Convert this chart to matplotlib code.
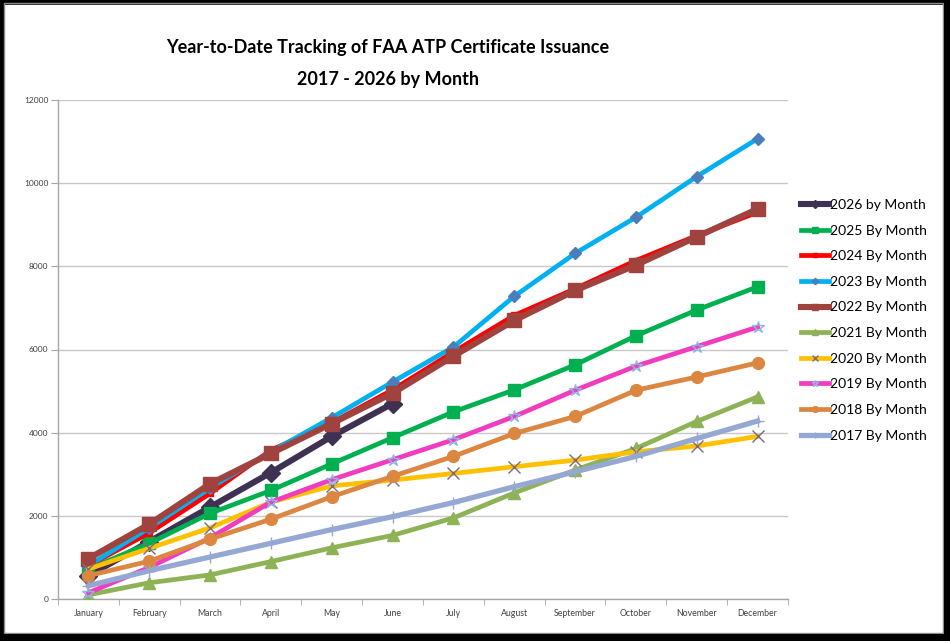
import matplotlib
matplotlib.use("Agg")
import matplotlib.pyplot as plt
from matplotlib.patches import Rectangle

plt.rcParams['font.family'] = ['Lato', 'DejaVu Sans']

months = ["January", "February", "March", "April", "May", "June", "July",
          "August", "September", "October", "November", "December"]

y2026 = [560, 1380, 2210, 3040, 3910, 4700]
y2025 = [720, 1340, 2060, 2610, 3250, 3880, 4500, 5030, 5630, 6330, 6950, 7510]
y2024 = [800, 1590, 2540, 3580, 4240, 5030, 5940, 6820, 7460, 8140, 8740, 9300]
y2023 = [800, 1710, 2670, 3540, 4360, 5220, 6060, 7280, 8310, 9180, 10160, 11070]
y2022 = [970, 1800, 2770, 3500, 4220, 4950, 5840, 6700, 7420, 8030, 8710, 9380]
y2021 = [100, 390, 580, 900, 1230, 1530, 1950, 2550, 3100, 3620, 4270, 4860]
y2020 = [720, 1220, 1710, 2330, 2720, 2860, 3020, 3180, 3340, 3540, 3680, 3910]
y2019 = [150, 760, 1470, 2330, 2870, 3350, 3830, 4390, 5020, 5600, 6070, 6540]
y2018 = [560, 910, 1440, 1920, 2460, 2950, 3430, 3980, 4390, 5020, 5340, 5680]
y2017 = [320, 680, 1010, 1340, 1670, 1980, 2320, 2700, 3060, 3430, 3860, 4280]

fig = plt.figure(figsize=(9.5, 6.41), dpi=100)
ax = fig.add_axes([58/950, 1-599/641, 730/950, 499/641])

x = list(range(12))

# (label, data, color, marker, markersize, markerfacecolor, markeredgecolor, linewidth)
series = [
    ("2026 by Month", y2026, "#3F3151", "D", 9, "#3F3151", "#3F3151", 4.4),
    ("2025 By Month", y2025, "#00B050", "s", 9, "#00B050", "#00B050", 3.4),
    ("2024 By Month", y2024, "#FF0000", "s", 5, "#FF0000", "#FF0000", 3.4),
    ("2023 By Month", y2023, "#00B0F0", "D", 6.5, "#4A7EBB", "#4A7EBB", 3.4),
    ("2022 By Month", y2022, "#A0433F", "s", 10, "#A0433F", "#A0433F", 4.4),
    ("2021 By Month", y2021, "#8EB256", "^", 9, "#8EB256", "#8EB256", 3.4),
    ("2020 By Month", y2020, "#FFC000", "x", 8, "#7A6A8A", "#7A6A8A", 3.4),
    ("2019 By Month", y2019, "#F03DBF", "*", 9, "none", "#8FB4E3", 3.4),
    ("2018 By Month", y2018, "#DC8741", "o", 8.5, "#DC8741", "#DC8741", 3.4),
    ("2017 By Month", y2017, "#94A8D3", "+", 8, "#94A8D3", "#94A8D3", 3.8),
]

for i, (lab, d, c, m, ms, mfc, mec, lw) in enumerate(series):
    ax.plot(x[:len(d)], d, color=c, lw=lw, marker=m, markersize=ms,
            markerfacecolor=mfc, markeredgecolor=mec, markeredgewidth=1.0,
            label=lab, zorder=3 + i, solid_joinstyle='round')

ax.set_xlim(-0.5, 11.5)
ax.set_ylim(0, 12000)
ax.set_yticks(range(0, 12001, 2000))
ax.set_xticks(x)
ax.set_xticklabels(months)
ax.set_xticks([i + 0.5 for i in range(-1, 12)], minor=True)
ax.tick_params(axis='x', which='major', length=0, labelsize=6.3, pad=7, colors="#404040")
ax.tick_params(axis='x', which='minor', length=4, direction='out', color="#A6A6A6")
ax.tick_params(axis='y', length=5, labelsize=6, pad=2, color="#A6A6A6", labelcolor="#404040")
ax.grid(axis='y', color="#C8C8C8", lw=1.0)
ax.set_axisbelow(True)
for s in ["top", "right"]:
    ax.spines[s].set_visible(False)
for s in ["left", "bottom"]:
    ax.spines[s].set_color("#A6A6A6")
    ax.spines[s].set_linewidth(1.0)

fig.text(388/950, 1-47/641, "Year-to-Date Tracking of FAA ATP Certificate Issuance",
         ha='center', va='center', fontsize=13, fontweight='bold')
fig.text(388/950, 1-79/641, "2017 - 2026 by Month",
         ha='center', va='center', fontsize=13, fontweight='bold')

leg = fig.legend(loc='upper left', bbox_to_anchor=(801/950, 1-199/641), frameon=False,
                 fontsize=10, handlelength=2.0, handletextpad=0.1, labelspacing=0.98,
                 borderaxespad=0, borderpad=0, markerscale=0.5)

# outer frame with shadow
fig.patches.append(Rectangle((0, 0), 1, 1, transform=fig.transFigure, fill=False,
                             edgecolor="black", lw=7, zorder=0))
fig.patches.append(Rectangle((0.004, 0.012), 0.989, 0.983, transform=fig.transFigure,
                             fill=False, edgecolor="#8C8C8C", lw=1.0, zorder=0))
fig.patches.append(Rectangle((944/950, 0), 6/950, 1, transform=fig.transFigure,
                             facecolor="black", edgecolor="none", zorder=0))
fig.patches.append(Rectangle((0, 0), 1, 7/641, transform=fig.transFigure,
                             facecolor="black", edgecolor="none", zorder=0))

fig.savefig("out.png", dpi=100)
